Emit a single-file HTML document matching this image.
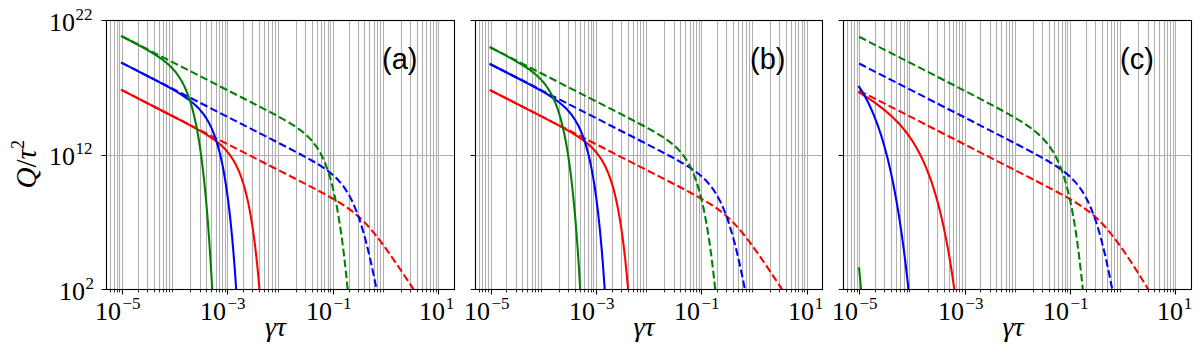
<!DOCTYPE html>
<html><head><meta charset="utf-8"><title>fig</title>
<style>
html,body{margin:0;padding:0;background:#fff}
body{width:1204px;height:352px;overflow:hidden}
text{fill:#000}
.tk{font-family:"Liberation Serif",serif;font-size:26px}
.sp{font-size:17px}
.pl{font-family:"Liberation Sans",sans-serif;font-size:29px}
.xl{font-family:"Liberation Serif",serif;font-size:28px;font-style:italic}
</style></head><body>
<svg width="1204" height="352" viewBox="0 0 1204 352" style="display:block">
<rect width="1204" height="352" fill="#fff"/>
<clipPath id="cpa"><rect x="106.50" y="20.50" width="348.00" height="269.00"/></clipPath>
<path d="M122.5,20.5V289.5M227.5,20.5V289.5M333.5,20.5V289.5M438.5,20.5V289.5M110.5,20.5V289.5M114.5,20.5V289.5M117.5,20.5V289.5M119.5,20.5V289.5M138.5,20.5V289.5M147.5,20.5V289.5M154.5,20.5V289.5M159.5,20.5V289.5M163.5,20.5V289.5M166.5,20.5V289.5M169.5,20.5V289.5M172.5,20.5V289.5M190.5,20.5V289.5M200.5,20.5V289.5M206.5,20.5V289.5M211.5,20.5V289.5M216.5,20.5V289.5M219.5,20.5V289.5M222.5,20.5V289.5M225.5,20.5V289.5M243.5,20.5V289.5M252.5,20.5V289.5M259.5,20.5V289.5M264.5,20.5V289.5M268.5,20.5V289.5M272.5,20.5V289.5M275.5,20.5V289.5M278.5,20.5V289.5M296.5,20.5V289.5M305.5,20.5V289.5M312.5,20.5V289.5M317.5,20.5V289.5M321.5,20.5V289.5M324.5,20.5V289.5M328.5,20.5V289.5M330.5,20.5V289.5M349.5,20.5V289.5M358.5,20.5V289.5M364.5,20.5V289.5M369.5,20.5V289.5M374.5,20.5V289.5M377.5,20.5V289.5M380.5,20.5V289.5M383.5,20.5V289.5M401.5,20.5V289.5M410.5,20.5V289.5M417.5,20.5V289.5M422.5,20.5V289.5M426.5,20.5V289.5M430.5,20.5V289.5M433.5,20.5V289.5M436.5,20.5V289.5M106.5,155.5H454.5" stroke="#b0b0b0" stroke-width="1.1" fill="none"/>
<g clip-path="url(#cpa)" fill="none" stroke-width="2.08">
<path d="M121.86,90.17 L280.43,171.13 L300.03,181.17 L312.64,187.70 L324.80,194.15 L329.64,196.81 L333.92,199.24 L337.87,201.56 L341.47,203.79 L344.74,205.92 L347.89,208.08 L351.72,210.91 L355.43,213.88 L359.04,217.01 L362.53,220.31 L366.02,223.87 L369.51,227.70 L373.00,231.79 L376.72,236.39 L380.44,241.21 L384.49,246.70 L388.88,252.84 L393.72,259.79 L399.13,267.71 L405.44,277.08 L422.67,303.06" stroke="#ff0000" stroke-dasharray="7.71 3.33"/>
<path d="M121.86,90.17 L163.98,111.70 L183.24,121.67 L190.56,125.56 L196.53,128.82 L201.60,131.70 L206.10,134.39 L210.61,137.28 L214.55,140.03 L218.15,142.81 L219.84,144.23 L221.42,145.63 L222.99,147.12 L224.46,148.59 L225.81,150.04 L227.16,151.58 L228.40,153.09 L229.64,154.70 L230.88,156.42 L232.00,158.09 L233.36,160.24 L234.59,162.38 L235.83,164.68 L237.07,167.18 L238.31,169.90 L239.44,172.57 L240.56,175.46 L241.58,178.26 L242.59,181.28 L243.60,184.53 L244.62,188.03 L245.52,191.37 L246.42,194.95 L247.32,198.78 L248.22,202.89 L249.12,207.30 L250.81,216.46 L252.39,226.20 L253.85,236.42 L255.32,247.93 L256.67,259.86 L258.02,273.20 L259.37,288.12 L260.61,303.36" stroke="#ff0000" stroke-linecap="square"/>
<path d="M121.86,62.87 L269.28,138.15 L288.43,148.00 L300.81,154.50 L307.23,157.98 L312.64,161.02 L317.26,163.76 L321.42,166.37 L325.25,168.97 L328.63,171.45 L331.78,173.99 L334.60,176.50 L336.51,178.35 L338.32,180.23 L340.01,182.13 L341.69,184.17 L343.27,186.22 L344.85,188.43 L346.42,190.82 L347.89,193.21 L349.35,195.77 L350.70,198.31 L352.06,201.03 L353.41,203.93 L354.76,207.04 L356.00,210.07 L357.35,213.58 L358.59,217.00 L359.94,220.95 L361.18,224.79 L363.66,233.08 L366.13,242.21 L368.61,252.17 L371.20,263.46 L373.79,275.60 L376.49,289.11 L379.20,303.39" stroke="#0000ff" stroke-dasharray="7.71 3.33"/>
<path d="M121.86,62.88 L151.26,77.97 L160.15,82.63 L167.25,86.45 L173.44,89.90 L178.62,92.95 L183.13,95.78 L187.18,98.54 L189.21,100.02 L191.12,101.51 L192.93,102.99 L194.61,104.46 L196.30,106.03 L197.88,107.60 L199.34,109.15 L200.81,110.82 L202.16,112.47 L203.51,114.24 L204.86,116.14 L206.10,118.02 L207.34,120.04 L208.47,122.02 L209.59,124.13 L210.61,126.18 L211.85,128.87 L212.97,131.52 L214.10,134.39 L215.22,137.49 L216.35,140.85 L217.36,144.12 L218.38,147.65 L219.28,151.02 L220.29,155.10 L221.19,158.99 L222.09,163.18 L222.99,167.66 L224.68,176.98 L226.26,186.89 L227.84,198.15 L229.30,209.97 L230.77,223.31 L232.12,237.15 L233.47,252.63 L234.71,268.45 L235.95,286.00 L237.07,303.64" stroke="#0000ff" stroke-linecap="square"/>
<path d="M121.86,36.24 L249.80,101.58 L267.93,110.97 L274.46,114.43 L279.87,117.36 L285.95,120.79 L291.13,123.89 L295.63,126.78 L299.58,129.54 L303.18,132.33 L304.87,133.75 L306.44,135.15 L308.02,136.64 L309.49,138.11 L310.84,139.56 L312.19,141.09 L313.99,143.31 L315.68,145.58 L317.26,147.89 L318.83,150.41 L320.30,152.97 L321.76,155.77 L323.11,158.58 L324.46,161.64 L325.82,164.98 L327.05,168.31 L328.29,171.92 L329.42,175.46 L330.55,179.29 L331.67,183.40 L332.80,187.84 L333.92,192.62 L335.05,197.78 L336.06,202.75 L337.08,208.07 L338.09,213.75 L340.01,225.54 L341.92,238.83 L343.72,252.83 L345.52,268.40 L347.33,285.63 L349.01,303.38" stroke="#008000" stroke-dasharray="7.71 3.33"/>
<path d="M121.86,36.31 L132.34,41.78 L140.45,46.11 L147.09,49.81 L152.61,53.06 L157.45,56.13 L159.70,57.66 L161.73,59.10 L163.64,60.54 L165.56,62.06 L167.25,63.48 L168.94,64.99 L170.63,66.60 L172.20,68.21 L173.78,69.95 L175.24,71.68 L176.60,73.39 L177.95,75.24 L179.30,77.23 L180.54,79.19 L181.78,81.31 L182.90,83.39 L184.03,85.62 L185.15,88.02 L186.28,90.60 L187.29,93.11 L188.31,95.80 L189.21,98.36 L190.34,101.81 L191.35,105.16 L192.36,108.78 L193.26,112.23 L194.16,115.93 L195.07,119.90 L195.97,124.15 L196.87,128.71 L198.56,138.19 L200.13,148.28 L201.60,158.87 L203.06,170.80 L204.41,183.16 L205.76,196.99 L207.12,212.46 L208.35,228.27 L209.59,245.81 L210.72,263.43 L211.85,282.81 L212.97,304.14" stroke="#008000" stroke-linecap="square"/>
</g>
<path d="M122.5,289.5v4.9M227.5,289.5v4.9M333.5,289.5v4.9M438.5,289.5v4.9M106.5,289.5h-4.9M106.5,155.5h-4.9M106.5,20.5h-4.9" stroke="#000" stroke-width="1.1" fill="none"/>
<path d="M110.5,289.5v2.9M114.5,289.5v2.9M117.5,289.5v2.9M119.5,289.5v2.9M138.5,289.5v2.9M147.5,289.5v2.9M154.5,289.5v2.9M159.5,289.5v2.9M163.5,289.5v2.9M166.5,289.5v2.9M169.5,289.5v2.9M172.5,289.5v2.9M190.5,289.5v2.9M200.5,289.5v2.9M206.5,289.5v2.9M211.5,289.5v2.9M216.5,289.5v2.9M219.5,289.5v2.9M222.5,289.5v2.9M225.5,289.5v2.9M243.5,289.5v2.9M252.5,289.5v2.9M259.5,289.5v2.9M264.5,289.5v2.9M268.5,289.5v2.9M272.5,289.5v2.9M275.5,289.5v2.9M278.5,289.5v2.9M296.5,289.5v2.9M305.5,289.5v2.9M312.5,289.5v2.9M317.5,289.5v2.9M321.5,289.5v2.9M324.5,289.5v2.9M328.5,289.5v2.9M330.5,289.5v2.9M349.5,289.5v2.9M358.5,289.5v2.9M364.5,289.5v2.9M369.5,289.5v2.9M374.5,289.5v2.9M377.5,289.5v2.9M380.5,289.5v2.9M383.5,289.5v2.9M401.5,289.5v2.9M410.5,289.5v2.9M417.5,289.5v2.9M422.5,289.5v2.9M426.5,289.5v2.9M430.5,289.5v2.9M433.5,289.5v2.9M436.5,289.5v2.9" stroke="#000" stroke-width="0.85" fill="none"/>
<rect x="106.5" y="20.5" width="348.0" height="269.0" fill="none" stroke="#000" stroke-width="1.1"/>
<text class="tk"><tspan x="95" y="319.7">10</tspan><tspan class="sp" x="122.5" y="308.7">−5</tspan></text>
<text class="tk"><tspan x="200" y="319.7">10</tspan><tspan class="sp" x="227.5" y="308.7">−3</tspan></text>
<text class="tk"><tspan x="306" y="319.7">10</tspan><tspan class="sp" x="333.5" y="308.7">−1</tspan></text>
<text class="tk"><tspan x="419" y="319.7">10</tspan><tspan class="sp" x="445.8" y="308.7">1</tspan></text>
<text class="pl" x="382" y="69">(a)</text>
<text class="xl" x="265" y="336">γτ</text>
<clipPath id="cpb"><rect x="475.50" y="20.50" width="347.00" height="269.00"/></clipPath>
<path d="M491.5,20.5V289.5M596.5,20.5V289.5M701.5,20.5V289.5M807.5,20.5V289.5M479.5,20.5V289.5M482.5,20.5V289.5M485.5,20.5V289.5M488.5,20.5V289.5M506.5,20.5V289.5M516.5,20.5V289.5M522.5,20.5V289.5M527.5,20.5V289.5M532.5,20.5V289.5M535.5,20.5V289.5M538.5,20.5V289.5M541.5,20.5V289.5M559.5,20.5V289.5M568.5,20.5V289.5M575.5,20.5V289.5M580.5,20.5V289.5M584.5,20.5V289.5M588.5,20.5V289.5M591.5,20.5V289.5M593.5,20.5V289.5M612.5,20.5V289.5M621.5,20.5V289.5M628.5,20.5V289.5M633.5,20.5V289.5M637.5,20.5V289.5M640.5,20.5V289.5M643.5,20.5V289.5M646.5,20.5V289.5M664.5,20.5V289.5M674.5,20.5V289.5M680.5,20.5V289.5M685.5,20.5V289.5M690.5,20.5V289.5M693.5,20.5V289.5M696.5,20.5V289.5M699.5,20.5V289.5M717.5,20.5V289.5M726.5,20.5V289.5M733.5,20.5V289.5M738.5,20.5V289.5M742.5,20.5V289.5M746.5,20.5V289.5M749.5,20.5V289.5M752.5,20.5V289.5M770.5,20.5V289.5M779.5,20.5V289.5M786.5,20.5V289.5M791.5,20.5V289.5M795.5,20.5V289.5M798.5,20.5V289.5M802.5,20.5V289.5M804.5,20.5V289.5M475.5,155.5H822.5" stroke="#b0b0b0" stroke-width="1.1" fill="none"/>
<g clip-path="url(#cpb)" fill="none" stroke-width="2.08">
<path d="M490.48,90.31 L648.94,171.21 L668.53,181.25 L681.15,187.77 L693.31,194.22 L698.15,196.88 L702.43,199.31 L706.37,201.63 L709.98,203.85 L713.24,205.97 L716.40,208.14 L720.22,210.95 L723.94,213.92 L727.55,217.04 L731.04,220.33 L734.53,223.89 L738.02,227.71 L741.51,231.78 L745.23,236.38 L748.94,241.20 L753.00,246.68 L757.39,252.81 L762.23,259.76 L767.64,267.67 L773.94,277.05 L791.17,303.02" stroke="#ff0000" stroke-dasharray="7.71 3.33"/>
<path d="M490.48,90.31 L532.60,111.84 L551.86,121.81 L559.18,125.69 L565.15,128.95 L570.22,131.83 L574.72,134.53 L579.23,137.41 L583.17,140.17 L586.77,142.95 L588.46,144.36 L590.04,145.76 L591.61,147.25 L593.08,148.73 L594.43,150.17 L595.78,151.72 L597.02,153.22 L598.26,154.83 L599.50,156.55 L600.62,158.22 L601.98,160.37 L603.21,162.51 L604.45,164.82 L605.69,167.32 L606.93,170.03 L608.06,172.70 L609.18,175.59 L610.20,178.40 L611.21,181.41 L612.22,184.66 L613.24,188.16 L614.14,191.50 L615.04,195.08 L615.94,198.92 L616.84,203.03 L617.74,207.44 L619.43,216.60 L621.01,226.34 L622.47,236.56 L623.94,248.07 L625.29,260.00 L626.64,273.33 L627.99,288.26 L629.23,303.50" stroke="#ff0000" stroke-linecap="square"/>
<path d="M490.48,64.21 L637.90,139.49 L657.05,149.34 L669.32,155.78 L675.74,159.26 L681.15,162.30 L685.76,165.03 L689.93,167.65 L693.76,170.23 L697.14,172.71 L700.29,175.24 L703.11,177.74 L705.02,179.58 L706.82,181.46 L708.51,183.34 L710.20,185.37 L711.78,187.42 L713.36,189.62 L714.93,191.99 L716.40,194.36 L717.86,196.91 L719.21,199.44 L720.56,202.14 L721.91,205.03 L723.27,208.12 L724.50,211.13 L725.86,214.62 L727.09,218.02 L728.45,221.96 L729.68,225.78 L732.16,234.03 L734.64,243.12 L737.12,253.05 L739.60,263.79 L742.19,275.86 L744.89,289.30 L747.59,303.52" stroke="#0000ff" stroke-dasharray="7.71 3.33"/>
<path d="M490.48,64.22 L519.76,79.26 L528.66,83.92 L535.76,87.73 L541.95,91.18 L547.13,94.22 L551.63,97.05 L555.69,99.80 L557.72,101.28 L559.63,102.76 L561.43,104.24 L563.12,105.70 L564.81,107.27 L566.39,108.83 L567.85,110.37 L569.32,112.03 L570.67,113.67 L572.02,115.43 L573.37,117.32 L574.61,119.19 L575.85,121.20 L576.97,123.16 L578.10,125.26 L579.11,127.29 L580.35,129.96 L581.48,132.59 L582.61,135.43 L583.73,138.51 L584.86,141.85 L585.87,145.09 L586.88,148.59 L587.79,151.93 L588.80,155.97 L589.70,159.84 L590.60,163.98 L591.50,168.43 L593.19,177.67 L594.77,187.49 L596.34,198.64 L597.81,210.36 L599.27,223.58 L600.62,237.28 L601.98,252.62 L603.21,268.29 L604.45,285.68 L605.58,303.14" stroke="#0000ff" stroke-linecap="square"/>
<path d="M490.48,47.40 L617.85,112.46 L635.87,121.78 L642.41,125.23 L647.81,128.16 L653.78,131.50 L658.96,134.56 L663.47,137.42 L667.41,140.13 L671.01,142.85 L674.28,145.60 L675.85,147.05 L677.32,148.47 L680.02,151.35 L681.82,153.48 L683.51,155.66 L685.09,157.87 L686.66,160.28 L688.13,162.73 L689.59,165.39 L690.94,168.07 L692.30,170.99 L693.65,174.16 L694.89,177.32 L696.12,180.75 L697.25,184.12 L698.38,187.74 L699.50,191.65 L700.63,195.86 L701.64,199.93 L702.66,204.29 L703.67,208.94 L704.68,213.92 L705.70,219.24 L707.61,230.28 L709.53,242.76 L711.33,255.93 L713.13,270.60 L714.93,286.89 L716.62,303.71" stroke="#008000" stroke-dasharray="7.71 3.33"/>
<path d="M490.48,47.48 L500.84,52.88 L508.84,57.16 L515.37,60.79 L520.89,64.02 L525.73,67.07 L529.90,69.94 L531.81,71.36 L533.73,72.85 L535.42,74.25 L537.11,75.74 L538.80,77.32 L540.37,78.90 L541.95,80.60 L543.41,82.29 L544.77,83.97 L546.12,85.77 L547.47,87.71 L548.71,89.63 L549.95,91.69 L551.07,93.70 L552.20,95.87 L553.32,98.20 L554.45,100.71 L555.46,103.14 L556.48,105.75 L557.38,108.23 L558.39,111.21 L559.41,114.43 L560.42,117.90 L561.32,121.21 L562.22,124.75 L563.12,128.55 L564.02,132.62 L564.92,136.99 L566.61,146.05 L568.19,155.69 L569.65,165.81 L571.12,177.20 L572.47,189.00 L573.82,202.20 L575.17,216.96 L576.41,232.04 L577.65,248.77 L578.78,265.57 L579.90,284.05 L581.03,304.38" stroke="#008000" stroke-linecap="square"/>
</g>
<path d="M491.5,289.5v4.9M596.5,289.5v4.9M701.5,289.5v4.9M807.5,289.5v4.9M475.5,289.5h-4.9M475.5,155.5h-4.9M475.5,20.5h-4.9" stroke="#000" stroke-width="1.1" fill="none"/>
<path d="M479.5,289.5v2.9M482.5,289.5v2.9M485.5,289.5v2.9M488.5,289.5v2.9M506.5,289.5v2.9M516.5,289.5v2.9M522.5,289.5v2.9M527.5,289.5v2.9M532.5,289.5v2.9M535.5,289.5v2.9M538.5,289.5v2.9M541.5,289.5v2.9M559.5,289.5v2.9M568.5,289.5v2.9M575.5,289.5v2.9M580.5,289.5v2.9M584.5,289.5v2.9M588.5,289.5v2.9M591.5,289.5v2.9M593.5,289.5v2.9M612.5,289.5v2.9M621.5,289.5v2.9M628.5,289.5v2.9M633.5,289.5v2.9M637.5,289.5v2.9M640.5,289.5v2.9M643.5,289.5v2.9M646.5,289.5v2.9M664.5,289.5v2.9M674.5,289.5v2.9M680.5,289.5v2.9M685.5,289.5v2.9M690.5,289.5v2.9M693.5,289.5v2.9M696.5,289.5v2.9M699.5,289.5v2.9M717.5,289.5v2.9M726.5,289.5v2.9M733.5,289.5v2.9M738.5,289.5v2.9M742.5,289.5v2.9M746.5,289.5v2.9M749.5,289.5v2.9M752.5,289.5v2.9M770.5,289.5v2.9M779.5,289.5v2.9M786.5,289.5v2.9M791.5,289.5v2.9M795.5,289.5v2.9M798.5,289.5v2.9M802.5,289.5v2.9M804.5,289.5v2.9" stroke="#000" stroke-width="0.85" fill="none"/>
<rect x="475.5" y="20.5" width="347.0" height="269.0" fill="none" stroke="#000" stroke-width="1.1"/>
<text class="tk"><tspan x="464" y="319.7">10</tspan><tspan class="sp" x="491.5" y="308.7">−5</tspan></text>
<text class="tk"><tspan x="569" y="319.7">10</tspan><tspan class="sp" x="596.5" y="308.7">−3</tspan></text>
<text class="tk"><tspan x="674" y="319.7">10</tspan><tspan class="sp" x="701.5" y="308.7">−1</tspan></text>
<text class="tk"><tspan x="788" y="319.7">10</tspan><tspan class="sp" x="814.8" y="308.7">1</tspan></text>
<text class="pl" x="750" y="69">(b)</text>
<text class="xl" x="633.5" y="336">γτ</text>
<clipPath id="cpc"><rect x="843.50" y="20.50" width="348.00" height="269.00"/></clipPath>
<path d="M859.5,20.5V289.5M965.5,20.5V289.5M1070.5,20.5V289.5M1175.5,20.5V289.5M847.5,20.5V289.5M851.5,20.5V289.5M854.5,20.5V289.5M857.5,20.5V289.5M875.5,20.5V289.5M884.5,20.5V289.5M891.5,20.5V289.5M896.5,20.5V289.5M900.5,20.5V289.5M904.5,20.5V289.5M907.5,20.5V289.5M909.5,20.5V289.5M928.5,20.5V289.5M937.5,20.5V289.5M944.5,20.5V289.5M949.5,20.5V289.5M953.5,20.5V289.5M956.5,20.5V289.5M959.5,20.5V289.5M962.5,20.5V289.5M980.5,20.5V289.5M990.5,20.5V289.5M996.5,20.5V289.5M1001.5,20.5V289.5M1006.5,20.5V289.5M1009.5,20.5V289.5M1012.5,20.5V289.5M1015.5,20.5V289.5M1033.5,20.5V289.5M1042.5,20.5V289.5M1049.5,20.5V289.5M1054.5,20.5V289.5M1058.5,20.5V289.5M1062.5,20.5V289.5M1065.5,20.5V289.5M1067.5,20.5V289.5M1086.5,20.5V289.5M1095.5,20.5V289.5M1102.5,20.5V289.5M1107.5,20.5V289.5M1111.5,20.5V289.5M1114.5,20.5V289.5M1117.5,20.5V289.5M1120.5,20.5V289.5M1138.5,20.5V289.5M1148.5,20.5V289.5M1154.5,20.5V289.5M1159.5,20.5V289.5M1164.5,20.5V289.5M1167.5,20.5V289.5M1170.5,20.5V289.5M1173.5,20.5V289.5M843.5,155.5H1191.5" stroke="#b0b0b0" stroke-width="1.1" fill="none"/>
<g clip-path="url(#cpc)" fill="none" stroke-width="2.08">
<path d="M859.12,90.57 L1012.51,168.90 L1034.58,180.21 L1048.55,187.44 L1061.16,194.14 L1066.23,196.93 L1070.62,199.44 L1074.67,201.84 L1078.28,204.08 L1081.66,206.29 L1084.92,208.55 L1088.98,211.58 L1092.81,214.69 L1096.52,217.99 L1100.13,221.48 L1103.73,225.26 L1107.33,229.34 L1111.05,233.84 L1114.99,238.92 L1119.38,244.88 L1124.00,251.46 L1128.96,258.79 L1134.25,266.89 L1139.88,275.75 L1145.51,284.85 L1151.03,294.02 L1156.32,303.06" stroke="#ff0000" stroke-dasharray="7.71 3.33"/>
<path d="M859.12,92.47 L865.43,96.42 L871.17,100.22 L876.47,103.94 L881.42,107.66 L886.04,111.38 L890.32,115.10 L894.37,118.92 L898.20,122.83 L900.12,124.92 L901.92,126.98 L903.72,129.13 L905.41,131.23 L908.68,135.58 L911.83,140.17 L914.87,145.02 L917.68,149.93 L920.39,155.07 L923.09,160.69 L925.68,166.57 L928.27,173.02 L930.64,179.44 L933.00,186.44 L935.25,193.70 L937.51,201.61 L939.65,209.78 L941.67,218.18 L943.70,227.27 L945.61,236.56 L947.53,246.60 L949.33,256.79 L951.13,267.77 L952.82,278.84 L954.51,290.72 L956.20,303.48" stroke="#ff0000" stroke-linecap="square"/>
<path d="M859.12,63.54 L994.60,132.76 L1018.37,145.01 L1033.68,153.08 L1040.66,156.88 L1046.63,160.26 L1051.70,163.27 L1056.21,166.11 L1060.26,168.85 L1063.98,171.58 L1067.35,174.31 L1070.40,177.02 L1072.31,178.88 L1074.22,180.88 L1076.03,182.91 L1077.72,184.96 L1079.29,187.01 L1080.87,189.22 L1082.45,191.61 L1083.91,193.98 L1085.37,196.54 L1086.84,199.28 L1088.19,202.00 L1089.54,204.90 L1090.89,208.01 L1092.13,211.04 L1093.48,214.55 L1094.72,217.98 L1095.96,221.61 L1097.20,225.44 L1098.44,229.49 L1099.68,233.75 L1102.15,242.95 L1104.63,253.04 L1107.11,264.02 L1109.59,275.87 L1112.18,289.15 L1114.77,303.27" stroke="#0000ff" stroke-dasharray="7.71 3.33"/>
<path d="M859.12,86.78 L861.38,90.32 L863.63,94.10 L865.77,97.95 L867.91,102.08 L869.93,106.25 L871.85,110.47 L873.76,114.96 L875.68,119.77 L877.48,124.59 L879.28,129.74 L880.97,134.88 L882.66,140.35 L884.35,146.17 L885.93,151.94 L887.50,158.08 L889.08,164.59 L890.66,171.51 L892.12,178.33 L893.58,185.54 L894.94,192.59 L896.29,200.02 L897.64,207.86 L898.99,216.14 L900.34,224.89 L901.69,234.12 L902.93,243.05 L904.17,252.43 L905.41,262.31 L907.77,282.63 L910.03,303.92" stroke="#0000ff" stroke-linecap="square"/>
<path d="M859.12,36.78 L933.34,74.69 L968.70,92.86 L981.65,99.60 L992.13,105.12 L1000.80,109.78 L1008.23,113.89 L1015.32,117.98 L1021.41,121.69 L1026.70,125.14 L1029.18,126.87 L1031.43,128.51 L1033.57,130.14 L1035.60,131.77 L1037.51,133.39 L1039.43,135.11 L1041.23,136.82 L1042.92,138.54 L1044.49,140.23 L1046.07,142.04 L1047.87,144.27 L1049.67,146.68 L1051.36,149.14 L1053.05,151.82 L1054.63,154.54 L1056.09,157.28 L1057.56,160.26 L1059.02,163.50 L1060.37,166.75 L1061.72,170.28 L1062.96,173.78 L1064.20,177.56 L1065.44,181.64 L1066.57,185.64 L1067.69,189.94 L1068.82,194.56 L1069.94,199.52 L1070.96,204.30 L1071.97,209.40 L1072.99,214.84 L1074.00,220.64 L1075.01,226.83 L1076.93,239.63 L1078.84,254.01 L1080.64,269.14 L1082.45,285.92 L1084.13,303.26" stroke="#008000" stroke-dasharray="7.71 3.33"/>
<path d="M859.12,268.27 L860.70,285.62 L862.28,304.15" stroke="#008000" stroke-linecap="square"/>
</g>
<path d="M859.5,289.5v4.9M965.5,289.5v4.9M1070.5,289.5v4.9M1175.5,289.5v4.9M843.5,289.5h-4.9M843.5,155.5h-4.9M843.5,20.5h-4.9" stroke="#000" stroke-width="1.1" fill="none"/>
<path d="M847.5,289.5v2.9M851.5,289.5v2.9M854.5,289.5v2.9M857.5,289.5v2.9M875.5,289.5v2.9M884.5,289.5v2.9M891.5,289.5v2.9M896.5,289.5v2.9M900.5,289.5v2.9M904.5,289.5v2.9M907.5,289.5v2.9M909.5,289.5v2.9M928.5,289.5v2.9M937.5,289.5v2.9M944.5,289.5v2.9M949.5,289.5v2.9M953.5,289.5v2.9M956.5,289.5v2.9M959.5,289.5v2.9M962.5,289.5v2.9M980.5,289.5v2.9M990.5,289.5v2.9M996.5,289.5v2.9M1001.5,289.5v2.9M1006.5,289.5v2.9M1009.5,289.5v2.9M1012.5,289.5v2.9M1015.5,289.5v2.9M1033.5,289.5v2.9M1042.5,289.5v2.9M1049.5,289.5v2.9M1054.5,289.5v2.9M1058.5,289.5v2.9M1062.5,289.5v2.9M1065.5,289.5v2.9M1067.5,289.5v2.9M1086.5,289.5v2.9M1095.5,289.5v2.9M1102.5,289.5v2.9M1107.5,289.5v2.9M1111.5,289.5v2.9M1114.5,289.5v2.9M1117.5,289.5v2.9M1120.5,289.5v2.9M1138.5,289.5v2.9M1148.5,289.5v2.9M1154.5,289.5v2.9M1159.5,289.5v2.9M1164.5,289.5v2.9M1167.5,289.5v2.9M1170.5,289.5v2.9M1173.5,289.5v2.9" stroke="#000" stroke-width="0.85" fill="none"/>
<rect x="843.5" y="20.5" width="348.0" height="269.0" fill="none" stroke="#000" stroke-width="1.1"/>
<text class="tk"><tspan x="832" y="319.7">10</tspan><tspan class="sp" x="859.5" y="308.7">−5</tspan></text>
<text class="tk"><tspan x="938" y="319.7">10</tspan><tspan class="sp" x="965.5" y="308.7">−3</tspan></text>
<text class="tk"><tspan x="1043" y="319.7">10</tspan><tspan class="sp" x="1070.5" y="308.7">−1</tspan></text>
<text class="tk"><tspan x="1157" y="319.7">10</tspan><tspan class="sp" x="1183.8" y="308.7">1</tspan></text>
<text class="pl" x="1120" y="69">(c)</text>
<text class="xl" x="1002.5" y="336">γτ</text>
<text class="tk"><tspan x="49" y="30.7">10</tspan><tspan class="sp" x="75.5" y="19.7">22</tspan></text>
<text class="tk"><tspan x="49" y="164.7">10</tspan><tspan class="sp" x="75.5" y="153.7">12</tspan></text>
<text class="tk"><tspan x="59" y="299.7">10</tspan><tspan class="sp" x="85.5" y="288.7">2</tspan></text>
<text transform="translate(35.5,188.5) rotate(-90)" font-family="&quot;Liberation Serif&quot;, serif" font-size="29"><tspan font-style="italic">Q</tspan>/<tspan font-style="italic">τ</tspan><tspan font-size="18" dy="-11.4">2</tspan></text>
</svg>
</body></html>
